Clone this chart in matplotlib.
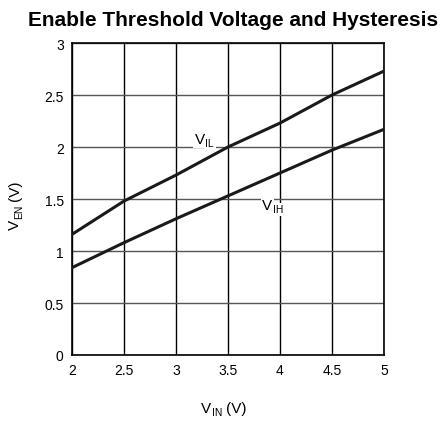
import matplotlib
matplotlib.use("Agg")
import matplotlib.pyplot as plt

plt.rcParams["font.family"] = ["Liberation Sans", "DejaVu Sans"]

# input supply voltage (V)
v_in = [2.0, 2.5, 3.0, 3.5, 4.0, 4.5, 5.0]
# enable thresholds (V)
v_il = [1.16, 1.48, 1.73, 2.00, 2.23, 2.50, 2.73]
v_ih = [0.84, 1.08, 1.31, 1.53, 1.75, 1.97, 2.17]

fig = plt.figure(figsize=(4.43, 4.27), dpi=100)
ax = fig.add_axes([72 / 443, 71 / 427, 312 / 443, 312 / 427])

ax.plot(v_in, v_il, color="#1a1a1a", lw=2.2, zorder=3)
ax.plot(v_in, v_ih, color="#1a1a1a", lw=2.2, zorder=3)

ax.set_xlim(2, 5)
ax.set_ylim(0, 3)
ax.set_xticks([2, 2.5, 3, 3.5, 4, 4.5, 5])
ax.set_xticklabels(["2", "2.5", "3", "3.5", "4", "4.5", "5"])
ax.set_yticks([0, 0.5, 1, 1.5, 2, 2.5, 3])
ax.set_yticklabels(["0", "0.5", "1", "1.5", "2", "2.5", "3"])
ax.tick_params(length=0, labelsize=10, pad=6)
ax.xaxis.grid(True, color="black", lw=1.0)
ax.yaxis.grid(True, color="#555555", lw=1.0)
for s in ax.spines.values():
    s.set_linewidth(1.2)

MAIN_PT = 11
SUB_PT = 7.5
V_W = 0.667 * MAIN_PT + 0.3       # advance of "V" in points
SUB_DROP = 2.0                    # subscript drop in points


def sub_label(xy, sub, coords, unit=None, rotation=0, box=False):
    """Draw 'V' with a large lowered subscript, optionally followed by a unit."""
    bb = dict(facecolor="white", edgecolor="none", pad=1.2) if box else None
    kw = dict(xycoords=coords, textcoords="offset points", va="baseline",
              ha="left", rotation=rotation, rotation_mode="anchor",
              annotation_clip=False, zorder=4)

    def off(along, drop):
        # along = distance in reading direction, drop = downward shift
        if rotation == 90:
            return (drop, along)
        return (along, -drop)

    ax.annotate("V", xy=xy, xytext=off(0, 0), fontsize=MAIN_PT, bbox=bb, **kw)
    sub_w = {"I": 0.278, "L": 0.556, "H": 0.722, "N": 0.722, "E": 0.667}
    ax.annotate(sub, xy=xy, xytext=off(V_W, SUB_DROP), fontsize=SUB_PT,
                bbox=bb, **kw)
    if unit:
        w = V_W + sum(sub_w[c] for c in sub) * SUB_PT + 0.278 * MAIN_PT
        ax.annotate(unit, xy=xy, xytext=off(w, 0), fontsize=MAIN_PT, **kw)


# curve labels sit on the grid with a white backing
sub_label((3.18, 2.035), "IL", "data", box=True)
sub_label((3.83, 1.40), "IH", "data", box=True)

# axis titles
sub_label((201 / 443, 1 - 413 / 427), "IN", "figure fraction", unit="(V)")
sub_label((19 / 443, 1 - 230 / 427), "EN", "figure fraction", unit="(V)",
          rotation=90)

fig.text(233 / 443, 1 - 20 / 427, "Enable Threshold Voltage and Hysteresis",
         fontsize=15, fontweight="bold", ha="center", va="center")

fig.savefig("out.png", dpi=100)
